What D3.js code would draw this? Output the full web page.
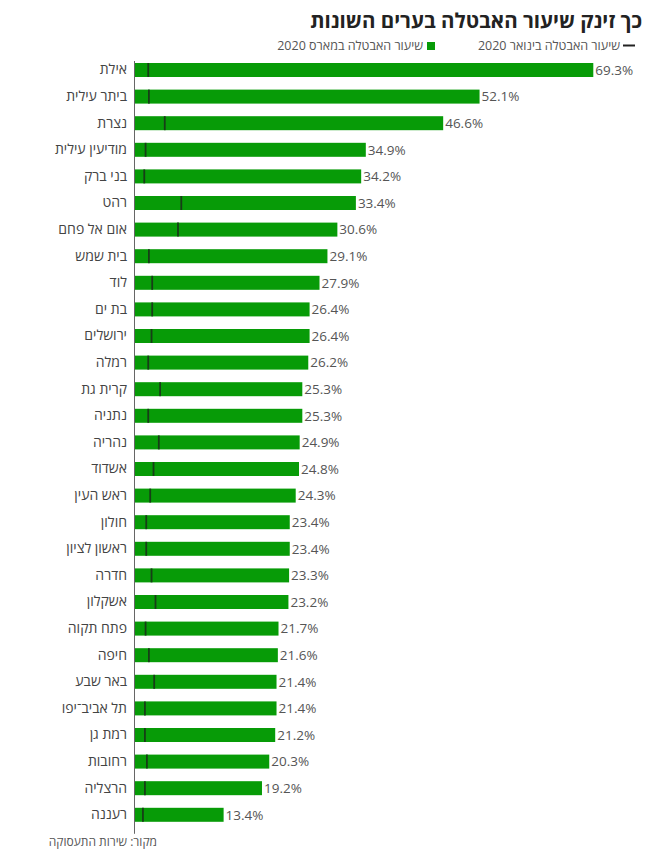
<!DOCTYPE html>
<html><head><meta charset="utf-8">
<script src="https://cdn.jsdelivr.net/npm/d3@7"></script>
<style>
html,body{margin:0;padding:0;background:#fff;}
svg{display:block;font-family:"Open Sans","DejaVu Sans",sans-serif;}
</style></head>
<body>
<svg id="chart" width="653" height="856"></svg>
<script>
const cities = ["אילת","ביתר עילית","נצרת","מודיעין עילית","בני ברק","רהט","אום אל פחם","בית שמש","לוד","בת ים","ירושלים","רמלה","קרית גת","נתניה","נהריה","אשדוד","ראש העין","חולון","ראשון לציון","חדרה","אשקלון","פתח תקוה","חיפה","באר שבע","תל אביב־יפו","רמת גן","רחובות","הרצליה","רעננה"];
const march2020 = [69.3,52.1,46.6,34.9,34.2,33.4,30.6,29.1,27.9,26.4,26.4,26.2,25.3,25.3,24.9,24.8,24.3,23.4,23.4,23.3,23.2,21.7,21.6,21.4,21.4,21.2,20.3,19.2,13.4];
const jan2020 = [2.0,2.1,4.5,1.6,1.4,7.0,6.5,2.1,2.6,2.6,2.5,2.0,3.8,2.0,3.6,2.8,2.3,1.7,1.7,2.5,3.1,1.6,2.1,2.9,1.5,1.5,1.8,1.5,1.2];
const titleText = "כך זינק שיעור האבטלה בערים השונות";
const legendJan = "שיעור האבטלה בינואר 2020";
const legendMar = "שיעור האבטלה במארס 2020";
const sourceText = "מקור: שירות התעסוקה";

const data = cities.map((c,i)=>({city:c, mar:march2020[i], jan:jan2020[i]}));
const svg = d3.select("#chart");
const GREEN = "#079b07", DARK = "#173d17";

const x = d3.scaleLinear().domain([0, 69.3]).range([135, 593.3]);
const y = d3.scaleBand().domain(cities).range([50.4, 834.4]).paddingInner(0.474).paddingOuter(0.474);

// title
svg.append("text").attr("x", 642).attr("y", 28).attr("text-anchor","end")
  .attr("font-size", 20.5).attr("font-weight", 700).attr("fill", "#222").text(titleText);

// legend
svg.append("line").attr("x1",623).attr("x2",635).attr("y1",45.5).attr("y2",45.5)
  .attr("stroke","#222").attr("stroke-width",2);
svg.append("text").attr("x",620).attr("y",50).attr("text-anchor","end")
  .attr("font-size",12.5).attr("fill","#555").text(legendJan);
svg.append("rect").attr("x",427).attr("y",42).attr("width",8).attr("height",8).attr("fill",GREEN);
svg.append("text").attr("x",423).attr("y",50).attr("text-anchor","end")
  .attr("font-size",12.5).attr("fill","#555").text(legendMar);

// bars
svg.append("g").selectAll("rect").data(data).join("rect")
  .attr("x", x(0)).attr("y", d=>y(d.city))
  .attr("width", d=>x(d.mar)-x(0)).attr("height", y.bandwidth())
  .attr("fill", GREEN);

// january markers
svg.append("g").selectAll("line").data(data).join("line")
  .attr("x1", d=>x(d.jan)).attr("x2", d=>x(d.jan))
  .attr("y1", d=>y(d.city)).attr("y2", d=>y(d.city)+y.bandwidth())
  .attr("stroke", DARK).attr("stroke-width", 1.8);

// value labels
svg.append("g").selectAll("text").data(data).join("text")
  .attr("x", d=>x(d.mar)+2).attr("y", d=>y(d.city)+y.bandwidth()/2)
  .attr("dy","0.36em").attr("font-size",13.5).attr("fill","#555")
  .text(d=>d.mar.toFixed(1)+"%");

// y axis
const ax = svg.append("g").attr("transform","translate(135,0)")
  .call(d3.axisLeft(y).tickSize(0).tickPadding(8));
ax.select(".domain").remove();
ax.selectAll("text").attr("font-size",14).attr("fill","#444")
  .attr("font-family","'Open Sans','DejaVu Sans',sans-serif");
svg.append("line").attr("x1",134.5).attr("x2",134.5)
  .attr("y1", y(cities[0])-2).attr("y2", y(cities[cities.length-1])+y.bandwidth()+12)
  .attr("stroke","#666").attr("stroke-width",1);

// source
svg.append("text").attr("x",157).attr("y",846).attr("text-anchor","end")
  .attr("font-size",12).attr("fill","#555").text(sourceText);
</script>
</body></html>
